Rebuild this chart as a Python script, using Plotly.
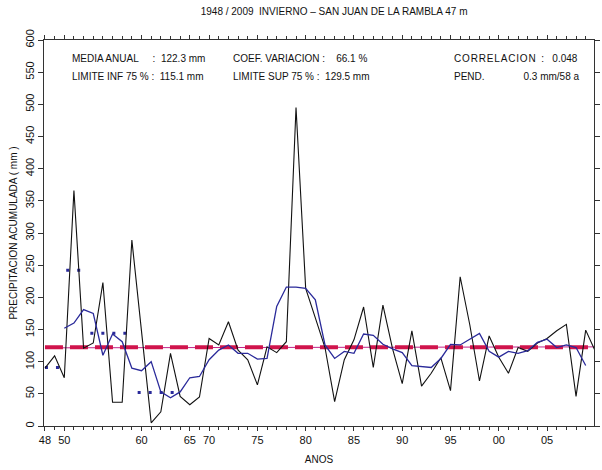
import plotly.graph_objects as go

# observation index along the x axis (one per winter with data)
obs = list(range(58))

precip = [90, 109, 75, 366, 121, 129, 223, 37, 37, 289,
          147, 5, 22, 113, 46, 33, 45, 136, 126, 162,
          118, 103, 64, 123, 114, 131, 495, 214, 168, 122,
          38, 103, 134, 185, 91, 188, 120, 66, 148, 62,
          82, 106, 55, 232, 157, 70, 140, 107, 82, 122,
          116, 129, 136, 148, 158, 46, 149, 116]

smooth_x = list(range(2, 57))
smooth = [152, 160, 181, 175, 110, 143, 131, 90, 86,
          100, 53, 44, 53, 75, 77, 103, 118, 126, 113,
          113, 104, 105, 186, 216, 216, 214, 196, 126, 105,
          116, 113, 143, 141, 127, 120, 114, 94, 92, 91,
          105, 127, 126, 135, 144, 116, 107, 116, 113, 117,
          130, 135, 122, 126, 122, 94]

# period means (dotted blue segments): start, end, value
period_start = [0, 2.2, 4.7, 9.6]
period_end = [1.6, 4.0, 8.8, 14.0]
period_mean = [91, 242, 144, 52]

mean_value = 122.3
trend_start, trend_end = 121.5, 123.0

tick_pos = [0, 2, 10, 15, 17, 22, 27, 32, 37, 42, 47, 52]
tick_text = ["48", "50", "60", "65", "70", "75", "80", "85", "90", "95", "00", "05"]
y_ticks = list(range(0, 601, 50))

NB = "\u00a0"
stats_lines = [
    ["MEDIA ANUAL" + NB * 5 + ":" + NB * 2 + "122.3 mm",
     "COEF. VARIACION :" + NB * 4 + "66.1 %",
     "C O R R E L A C I O N".replace(" ", "\u200a") + NB * 2 + ":" + NB * 3 + "0.048"],
    ["LIMITE INF 75 % :" + NB * 2 + "115.1 mm",
     "LIMITE SUP 75 % :" + NB * 2 + "129.5 mm",
     "PEND." + NB * 14 + "0.3" + NB + "mm/58" + NB + "a"],
]

FONT = "Liberation Sans, Arial, sans-serif"
fig = go.Figure()

# thin trend line
fig.add_trace(go.Scatter(x=[obs[0], obs[-1]], y=[trend_start, trend_end], mode="lines",
                         line=dict(color="#c0268c", width=1), hoverinfo="skip", showlegend=False))
# mean dashed line
fig.add_trace(go.Scatter(x=[obs[0], obs[-1]], y=[mean_value, mean_value], mode="lines",
                         line=dict(color="#d0144c", width=4, dash="18px,7px"),
                         hoverinfo="skip", showlegend=False))
# period means
for s, e, v in zip(period_start, period_end, period_mean):
    fig.add_trace(go.Scatter(x=[s, e], y=[v, v], mode="lines",
                             line=dict(color="#2a2a9a", width=3, dash="3px,8px"),
                             showlegend=False))
# observations
fig.add_trace(go.Scatter(x=obs, y=precip, mode="lines",
                         line=dict(color="#111111", width=1.1), showlegend=False))
# smoothed
fig.add_trace(go.Scatter(x=smooth_x, y=smooth, mode="lines",
                         line=dict(color="#2a2a9a", width=1.3), showlegend=False))

col_x = [0.048, 0.34, 0.742]
for r, row in enumerate(stats_lines):
    for c, txt in enumerate(row):
        fig.add_annotation(x=col_x[c], y=[0.953, 0.906][r], xref="paper", yref="paper",
                           text=txt, showarrow=False, xanchor="left", yanchor="middle",
                           font=dict(size=10, color="#111", family=FONT))

fig.update_layout(
    width=602, height=470,
    margin=dict(l=44, r=2, t=40, b=44),
    paper_bgcolor="white", plot_bgcolor="white",
    title=dict(text="1948 / 2009  INVIERNO \u2013 SAN JUAN DE LA RAMBLA 47 m",
               x=0.555, xanchor="center", y=0.975, yanchor="middle",
               font=dict(size=10, color="#111", family=FONT)),
    font=dict(family=FONT, color="#111", size=11),
)
fig.update_xaxes(range=[-0.1, 56.86], tickmode="array", tickvals=tick_pos, ticktext=tick_text,
                 showgrid=False, zeroline=False, showline=True, linecolor="#333", linewidth=1.2,
                 mirror="ticks", ticks="outside", ticklen=4, tickcolor="#333",
                 minor=dict(dtick=1, ticks="outside", ticklen=3, tickcolor="#333"),
                 tickfont=dict(size=11, family=FONT),
                 title=dict(text="ANOS", font=dict(size=10, family=FONT), standoff=10))
fig.update_yaxes(range=[0, 600], tickmode="array", tickvals=y_ticks,
                 showgrid=False, zeroline=False, showline=True, linecolor="#333", linewidth=1.2,
                 mirror="ticks", ticks="outside", ticklen=5, tickcolor="#333",
                 tickangle=-90, tickfont=dict(size=11, family=FONT),
                 title=dict(text="PRECIPITACION ACUMULADA ( mm )", font=dict(size=10, family=FONT),
                            standoff=4))

fig.write_html("out.html")
